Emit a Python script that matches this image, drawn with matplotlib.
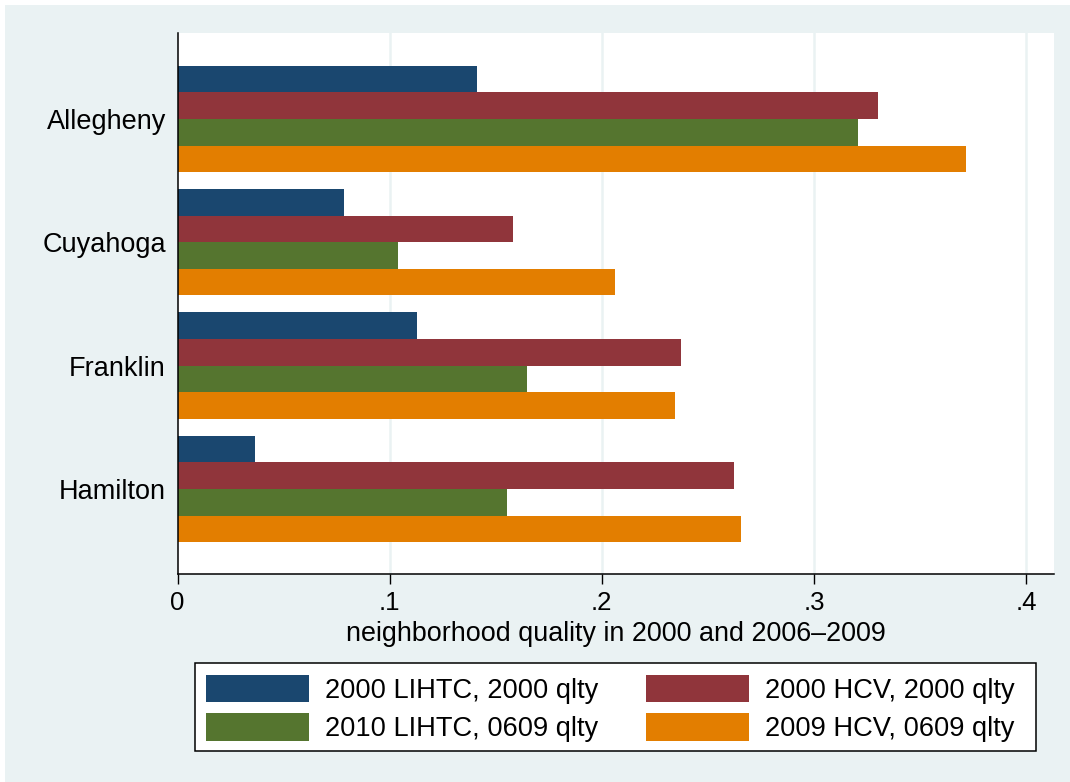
import matplotlib
matplotlib.use("Agg")
import matplotlib.pyplot as plt
import numpy as np
from matplotlib.patches import Rectangle

plt.rcParams["font.family"] = ["Liberation Sans", "DejaVu Sans"]

# neighborhood quality by county
counties = ["Allegheny", "Cuyahoga", "Franklin", "Hamilton"]
series_labels = [
    "2000 LIHTC, 2000 qlty",
    "2000 HCV, 2000 qlty",
    "2010 LIHTC, 0609 qlty",
    "2009 HCV, 0609 qlty",
]
lihtc_2000 = [0.1412, 0.0786, 0.1129, 0.0367]
hcv_2000 = [0.3302, 0.1582, 0.2374, 0.2624]
lihtc_2010 = [0.3208, 0.1040, 0.1648, 0.1555]
hcv_2009 = [0.3717, 0.2063, 0.2346, 0.2657]
xticks = [0, 0.1, 0.2, 0.3, 0.4]
xtick_labels = ["0", ".1", ".2", ".3", ".4"]

colors = ["#1A476F", "#90353B", "#55752F", "#E37E00"]
bg = "#EAF2F3"
W, H = 1070, 782

fig = plt.figure(figsize=(W / 100, H / 100), dpi=100)
fig.patch.set_facecolor("white")
fig.add_artist(Rectangle((5 / W, 0), (W - 5) / W, (H - 5) / H,
                         transform=fig.transFigure, facecolor=bg,
                         edgecolor="none", zorder=-10))

ax = fig.add_axes([0.1659, 0.2656, 0.8192, 0.6922])
ax.set_facecolor("white")

y = np.arange(len(counties))
h = 0.2157
offsets = (np.arange(4) - 1.5) * h
bars = []
for vals, off, col, lab in zip([lihtc_2000, hcv_2000, lihtc_2010, hcv_2009],
                               offsets, colors, series_labels):
    bars.append(ax.barh(y + off, vals, height=h, color=col, label=lab,
                        zorder=2, linewidth=0))

ax.set_xlim(0, 0.4132)
ax.set_ylim(3.692, -0.697)

ax.set_xticks(xticks)
ax.set_xticklabels(xtick_labels, fontsize=18.5)
ax.set_yticks(y)
ax.set_yticklabels(counties, fontsize=19.5)
ax.tick_params(axis="y", length=0, pad=8.3)
ax.tick_params(axis="x", length=7.5, width=1.0, pad=4.5, direction="out")

for xv in xticks[1:]:
    ax.axvline(xv, color=bg, lw=1.8, zorder=1)

for side in ["top", "right"]:
    ax.spines[side].set_visible(False)
for side in ["left", "bottom"]:
    ax.spines[side].set_linewidth(1.1)
    ax.spines[side].set_color("black")
    ax.spines[side].set_zorder(3)

ax.set_xlabel("neighborhood quality in 2000 and 2006\u20132009", fontsize=19.4,
              labelpad=4)

# legend box drawn separately so its size is fixed
fig.add_artist(Rectangle((195 / W, 1 - 751 / H), 841 / W, 88 / H,
                         transform=fig.transFigure, facecolor="white",
                         edgecolor="black", linewidth=1.1, zorder=4))

# legend fills row by row: reorder so column fill gives that layout
order = [0, 2, 1, 3]
leg_pt = 19.6
fs = leg_pt * 100 / 72
leg = fig.legend([bars[i] for i in order], [series_labels[i] for i in order],
                 loc="upper left", bbox_to_anchor=(206 / W, 1 - 674.5 / H),
                 ncol=2, fontsize=leg_pt, frameon=False,
                 borderpad=0, borderaxespad=0,
                 handlelength=103 / fs, handleheight=1.2,
                 handletextpad=16 / fs, columnspacing=48 / fs,
                 labelspacing=0.35)
leg.set_zorder(5)

fig.savefig("out.png", dpi=100, facecolor=fig.get_facecolor())
